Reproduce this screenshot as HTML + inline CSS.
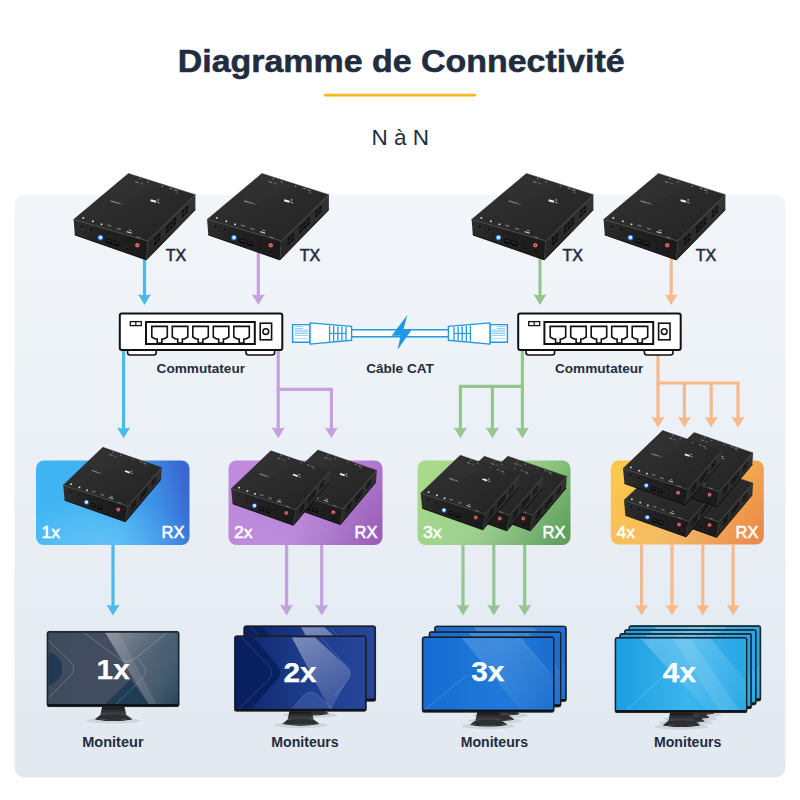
<!DOCTYPE html>
<html lang="fr"><head><meta charset="utf-8"><title>Diagramme de Connectivité</title>
<style>html,body{margin:0;padding:0;background:#fff}body{width:800px;height:800px;overflow:hidden}svg{display:block}text{font-family:"Liberation Sans",Arial,Helvetica,sans-serif}</style></head><body>
<svg width="800" height="800" viewBox="0 0 800 800">
<defs>
<linearGradient id="gPanel" x1="0" y1="0" x2="0" y2="1"><stop offset="0" stop-color="#f2f6fa"/><stop offset=".45" stop-color="#ebf0f6"/><stop offset="1" stop-color="#e1e8f0"/></linearGradient>
<linearGradient id="gTop" x1="0" y1="0" x2="1" y2="1"><stop offset="0" stop-color="#333"/><stop offset=".5" stop-color="#2b2b2b"/><stop offset="1" stop-color="#222"/></linearGradient>
<linearGradient id="gFront" x1="0" y1="0" x2="1" y2="0"><stop offset="0" stop-color="#2d2d2d"/><stop offset=".35" stop-color="#222"/><stop offset="1" stop-color="#1a1a1a"/></linearGradient>
<linearGradient id="gRight" x1="0" y1="1" x2="1" y2="0"><stop offset="0" stop-color="#262626"/><stop offset="1" stop-color="#333"/></linearGradient>
<linearGradient id="gNeck" x1="0" y1="0" x2="0" y2="1"><stop offset="0" stop-color="#101113"/><stop offset="1" stop-color="#4a4d52"/></linearGradient>
<linearGradient id="gBlue" x1="0" y1=".6" x2="1" y2=".45"><stop offset="0" stop-color="#41b6f3"/><stop offset=".5" stop-color="#3eb1f3"/><stop offset=".8" stop-color="#3c8de5"/><stop offset="1" stop-color="#3a68d2"/></linearGradient>
<radialGradient id="gGlow" cx=".42" cy="1" r=".6"><stop offset="0" stop-color="#dff6ff" stop-opacity=".22"/><stop offset="1" stop-color="#dff6ff" stop-opacity="0"/></radialGradient>
<linearGradient id="gPurple" x1="0" y1=".3" x2="1" y2=".8"><stop offset="0" stop-color="#c08add"/><stop offset=".55" stop-color="#b67fd6"/><stop offset="1" stop-color="#9a5fb8"/></linearGradient>
<linearGradient id="gGreen" x1="0" y1=".3" x2="1" y2=".8"><stop offset="0" stop-color="#a9d98b"/><stop offset=".5" stop-color="#97cd84"/><stop offset="1" stop-color="#5f9f5e"/></linearGradient>
<linearGradient id="gOrange" x1="0" y1=".3" x2="1" y2=".8"><stop offset="0" stop-color="#fbc84d"/><stop offset=".5" stop-color="#f7b451"/><stop offset="1" stop-color="#ea8a49"/></linearGradient>
<linearGradient id="scr1" x1="0" y1="0" x2="1" y2="0"><stop offset="0" stop-color="#3f4a5c"/><stop offset=".6" stop-color="#434e60"/><stop offset="1" stop-color="#2d475c"/></linearGradient>
<linearGradient id="scr2" x1="0" y1="0" x2="1" y2="0"><stop offset="0" stop-color="#0b2568"/><stop offset=".5" stop-color="#1d3b8b"/><stop offset="1" stop-color="#274599"/></linearGradient>
<linearGradient id="scr3" x1="0" y1="0" x2="1" y2="0"><stop offset="0" stop-color="#166cd2"/><stop offset=".6" stop-color="#2079d9"/><stop offset="1" stop-color="#1a6fcf"/></linearGradient>
<linearGradient id="scr4" x1="0" y1="0" x2="1" y2="0"><stop offset="0" stop-color="#1c9ee1"/><stop offset=".55" stop-color="#3cb5ed"/><stop offset="1" stop-color="#27a7e5"/></linearGradient>
<linearGradient id="glare" x1="0" y1="0" x2="1" y2="1"><stop offset="0" stop-color="#fff" stop-opacity=".32"/><stop offset="1" stop-color="#fff" stop-opacity=".03"/></linearGradient>
<linearGradient id="glare1" x1="0" y1="0" x2="1" y2="1"><stop offset="0" stop-color="#fff" stop-opacity=".36"/><stop offset=".5" stop-color="#c9d6e2" stop-opacity=".16"/><stop offset="1" stop-color="#1c3b52" stop-opacity=".35"/></linearGradient>
<linearGradient id="glare2" x1="0" y1="0" x2=".6" y2="1"><stop offset="0" stop-color="#fff" stop-opacity=".42"/><stop offset="1" stop-color="#fff" stop-opacity=".12"/></linearGradient>
<clipPath id="scrClip"><rect x="1.3" y="1.3" width="129.9" height="72"/></clipPath>
<g id="pat1"><path d="M1.8 21 Q15.6 25.5 15.2 37.7 Q15.6 49.5 1.8 54.5 Z" fill="#1f3a52"/><path d="M58.4 73 L83.7 48.4 L101.9 73 Z" fill="#203c55"/><polygon points="58.4,1.8 131,1.8 131,73 101.9,73" fill="url(#glare1)"/><polygon points="58.4,1.8 72,1.8 110,73 101.9,73" fill="#fff" opacity=".09"/><path d="M1.8 9.6 L23.5 30.5 Q30.5 37.7 23.5 45 L1.8 66.7" fill="none" stroke="#fff" stroke-opacity=".42" stroke-width=".55"/><path d="M37.5 1.8 L72 27.5 Q80 33.5 88 27.5 L120 1.8" fill="none" stroke="#fff" stroke-opacity=".42" stroke-width=".55"/><path d="M69.2 73 L95 48 Q102 40 96 33 L91 28" fill="none" stroke="#fff" stroke-opacity=".36" stroke-width=".55"/></g>
<g id="pat2"><path d="M1.8 1.8 L19 1.8 L43.4 30 Q48.6 36.8 43.4 43.5 L17 73 L1.8 73 Z" fill="#08205f"/><path d="M57.7 73 L70 59.5 Q77 53.4 84 59.5 L98 73 Z" fill="#4a66ad" opacity=".45"/><path d="M57.7 1.8 L81 1.8 L112.6 31 Q118.6 37 113.8 44 L97.6 73 L95.5 73 Z" fill="url(#glare2)"/><path d="M7.4 1.8 L34.5 29.5 Q40 36.8 34.5 44 L5 73" fill="none" stroke="#fff" stroke-opacity=".28" stroke-width=".55"/><path d="M86.8 1.8 L112.6 31 Q118.6 37 113.8 44 L101 60" fill="none" stroke="#fff" stroke-opacity=".3" stroke-width=".55"/><path d="M57.7 73 L70 59.5 Q77 53.4 84 59.5 L98 73" fill="none" stroke="#fff" stroke-opacity=".25" stroke-width=".5"/></g>
<g id="pat3"><polygon points="40,1.8 100,1.8 131,40 131,73 98,73" fill="url(#glare)" opacity=".55"/><path d="M3 73 L46 38" fill="none" stroke="#fff" stroke-opacity=".3" stroke-width=".6"/><path d="M96 1.8 L128 36" fill="none" stroke="#fff" stroke-opacity=".2" stroke-width=".6"/></g>
<g id="pat4"><polygon points="26,1.8 96,1.8 131,44 131,73 92,73" fill="url(#glare)" opacity=".7"/><polygon points="58,1.8 76,1.8 124,73 104,73" fill="#fff" opacity=".10"/><path d="M12 73 L52 36" fill="none" stroke="#fff" stroke-opacity=".35" stroke-width=".6"/></g>
<symbol id="tx" overflow="visible">
<polygon points="0,46 74.2,67.5 121.8,21.2 54.8,0" fill="url(#gTop)" stroke="#262626" stroke-width=".5"/>
<polygon points="0,46 74.2,67.5 72.8,86.4 1.2,61.4" fill="url(#gFront)"/>
<polygon points="74.2,67.5 121.8,21.2 121.8,36.2 72.8,86.4" fill="url(#gRight)"/>
<polygon points="55.17,2.02 86.76,11.98 41.89,33.59 34.98,19.04" fill="#3b3b3b" opacity=".28"/>
<polygon points="0,46 74.2,67.5 75.06,66.67 0.99,45.17" fill="#3a3a3a" opacity=".55"/>
<polyline points="0,46 74.2,67.5 121.8,21.2" fill="none" stroke="#4f4f4f" stroke-width=".7"/>
<line x1="74.2" y1="67.5" x2="72.8" y2="86.4" stroke="#383838" stroke-width="0.8" opacity="1"/>
<polyline points="1.2,61.4 72.8,86.4 121.8,36.2" fill="none" stroke="#0b0b0b" stroke-width=".9"/>
<line x1="37" y1="27.4" x2="44" y2="29.5" stroke="#c8c8c8" stroke-width="1.2" opacity="0.6"/>
<circle cx="45.4" cy="29.7" r="0.7" fill="#e9ad17"/>
<line x1="46.6" y1="30.4" x2="49" y2="31.1" stroke="#7a7a7a" stroke-width="0.8" opacity="0.7"/>
<line x1="77" y1="26.7" x2="82.4" y2="28.3" stroke="#f0f0f0" stroke-width="2" opacity="1"/>
<line x1="83.2" y1="28.6" x2="86.2" y2="29.5" stroke="#8a8a8a" stroke-width="1.1" opacity="1"/>
<circle cx="84.6" cy="26.4" r="0.7" fill="#fff"/>
<circle cx="66.1" cy="5.1" r="0.7" fill="#9a9a9a"/>
<line x1="61.6" y1="8.1" x2="64.8" y2="9.1" stroke="#a8a8a8" stroke-width="1" opacity="0.8"/>
<line x1="66.4" y1="9.5" x2="69.8" y2="10.5" stroke="#808080" stroke-width="0.8" opacity="0.7"/>
<circle cx="74.5" cy="8.5" r="0.7" fill="#9a9a9a"/>
<circle cx="88.6" cy="12.7" r="0.7" fill="#9a9a9a"/>
<line x1="96" y1="14.7" x2="98.8" y2="15.5" stroke="#a0a0a0" stroke-width="1" opacity="0.8"/>
<line x1="100.4" y1="16.3" x2="104" y2="17.4" stroke="#a0a0a0" stroke-width="1" opacity="0.8"/>
<line x1="101.4" y1="18.7" x2="104.6" y2="19.7" stroke="#777" stroke-width="0.8" opacity="0.7"/>
<rect x="8.85" y="43.6" width="1.7" height="1.6" fill="#e4e4e4"/>
<rect x="18.35" y="47" width="1.7" height="1.6" fill="#e4e4e4"/>
<rect x="27.05" y="50.05" width="1.7" height="1.6" fill="#e4e4e4"/>
<line x1="33.8" y1="51.55" x2="37.8" y2="52.65" stroke="#8a8a8a" stroke-width="1.9" opacity="0.6"/>
<line x1="43.3" y1="54.85" x2="47.3" y2="55.95" stroke="#8a8a8a" stroke-width="1.9" opacity="0.6"/>
<line x1="53" y1="58.1" x2="58" y2="59.6" stroke="#e0e0e0" stroke-width="1.1" opacity="0.85"/>
<line x1="55.6" y1="56.5" x2="57.8" y2="57.2" stroke="#d0d0d0" stroke-width="1" opacity="0.8"/>
<line x1="62.6" y1="63.4" x2="67" y2="64.7" stroke="#9a9a9a" stroke-width="0.9" opacity="0.7"/>
<circle cx="8.2" cy="52.9" r="2.1" fill="#333"/>
<circle cx="8.2" cy="52.9" r="1.25" fill="#0b0b0b"/>
<circle cx="17.8" cy="56" r="2.1" fill="#333"/>
<circle cx="17.8" cy="56" r="1.25" fill="#0b0b0b"/>
<circle cx="26.8" cy="64.1" r="2.9" fill="#1c5fd2"/>
<circle cx="26.8" cy="64.1" r="2.2" fill="#6ab4ff"/>
<circle cx="27" cy="63.9" r="1.45" fill="#f2f9ff"/>
<polygon points="31.8,63.9 38.4,65.8 38.4,71.4 31.8,69.5" fill="#070707" stroke="#2e2e2e" stroke-width=".5"/>
<polygon points="33,65.5 37.2,67.1 37.2,68.8 33,67.2" fill="#2b2f33"/>
<polygon points="39.2,66.1 46.3,68.2 46.3,73.8 39.2,71.7" fill="#070707" stroke="#2e2e2e" stroke-width=".5"/>
<polygon points="40.4,67.7 45.1,69.5 45.1,71.2 40.4,69.4" fill="#2b2f33"/>
<circle cx="52.65" cy="68" r="1.35" fill="#090909" stroke="#343434" stroke-width=".5"/>
<circle cx="53.2" cy="74.8" r="1.35" fill="#090909" stroke="#343434" stroke-width=".5"/>
<circle cx="63.7" cy="71.8" r="2.3" fill="#d9474c"/>
<circle cx="63.7" cy="71.8" r="1.45" fill="#f08a8a"/>
<circle cx="63.7" cy="71.8" r="0.75" fill="#5a1417"/>
<circle cx="64.4" cy="78.5" r="0.8" fill="#070707"/>
<polygon points="80.84,64.82 83.47,62.23 83.29,65.22 80.64,67.85" fill="#0d0d0d"/>
<polygon points="80.53,69.5 83.19,66.85 83,69.84 80.34,72.52" fill="#0d0d0d"/>
<polygon points="84.19,61.52 86.83,58.93 86.66,61.87 84.01,64.5" fill="#0d0d0d"/>
<polygon points="83.91,66.12 86.57,63.48 86.4,66.42 83.73,69.1" fill="#0d0d0d"/>
<polygon points="92.58,53.27 95.45,50.44 95.32,53.27 92.44,56.13" fill="#0d0d0d"/>
<polygon points="92.36,57.7 95.25,54.81 95.13,57.64 92.22,60.57" fill="#0d0d0d"/>
<polygon points="96.17,49.73 99.04,46.9 98.93,49.68 96.05,52.55" fill="#0d0d0d"/>
<polygon points="95.98,54.09 98.87,51.2 98.76,53.98 95.85,56.91" fill="#0d0d0d"/>
<polygon points="99.76,46.19 102.64,43.36 102.54,46.1 99.66,48.96" fill="#0d0d0d"/>
<polygon points="99.6,50.48 102.49,47.59 102.4,50.32 99.49,53.25" fill="#0d0d0d"/>
<polygon points="108.39,37.7 111.02,35.11 110.97,37.73 108.32,40.36" fill="#0d0d0d"/>
<polygon points="108.29,41.81 110.94,39.16 110.89,41.78 108.22,44.46" fill="#0d0d0d"/>
<polygon points="111.74,34.4 114.37,31.81 114.34,34.38 111.69,37.01" fill="#0d0d0d"/>
<polygon points="111.66,38.44 114.32,35.79 114.28,38.36 111.62,41.05" fill="#0d0d0d"/>
</symbol>
<symbol id="rx" overflow="visible">
<polygon points="0,37.9 64.6,59 98.6,20.3 39.6,0" fill="url(#gTop)" stroke="#262626" stroke-width=".5"/>
<polygon points="0,37.9 64.6,59 62.2,74.5 1.4,52.9" fill="url(#gFront)"/>
<polygon points="64.6,59 98.6,20.3 97.8,31.9 62.2,74.5" fill="url(#gRight)"/>
<polygon points="40.19,1.75 68,11.3 33.3,28.56 25.6,15.78" fill="#3b3b3b" opacity=".28"/>
<polygon points="0,37.9 64.6,59 65.21,58.3 0.71,37.22" fill="#3a3a3a" opacity=".55"/>
<polyline points="0,37.9 64.6,59 98.6,20.3" fill="none" stroke="#4f4f4f" stroke-width=".7"/>
<line x1="64.6" y1="59" x2="62.2" y2="74.5" stroke="#383838" stroke-width="0.69" opacity="1"/>
<polyline points="1.4,52.9 62.2,74.5 97.8,31.9" fill="none" stroke="#0b0b0b" stroke-width=".9"/>
<line x1="28.4" y1="23.06" x2="34.53" y2="25.1" stroke="#c8c8c8" stroke-width="1.03" opacity="0.6"/>
<circle cx="35.72" cy="25.31" r="0.6" fill="#e9ad17"/>
<line x1="36.82" y1="25.96" x2="38.91" y2="26.64" stroke="#7a7a7a" stroke-width="0.69" opacity="0.7"/>
<line x1="61.75" y1="23.71" x2="66.48" y2="25.27" stroke="#f0f0f0" stroke-width="1.72" opacity="1"/>
<line x1="67.19" y1="25.55" x2="69.82" y2="26.42" stroke="#8a8a8a" stroke-width="0.95" opacity="1"/>
<circle cx="68.08" cy="23.69" r="0.6" fill="#fff"/>
<circle cx="49.76" cy="4.74" r="0.6" fill="#9a9a9a"/>
<line x1="46.39" y1="7.18" x2="49.21" y2="8.14" stroke="#a8a8a8" stroke-width="0.86" opacity="0.8"/>
<line x1="50.6" y1="8.54" x2="53.58" y2="9.5" stroke="#808080" stroke-width="0.69" opacity="0.7"/>
<circle cx="57.25" cy="7.92" r="0.6" fill="#9a9a9a"/>
<circle cx="69.63" cy="11.97" r="0.6" fill="#9a9a9a"/>
<line x1="76.1" y1="13.92" x2="78.55" y2="14.69" stroke="#a0a0a0" stroke-width="0.86" opacity="0.8"/>
<line x1="80" y1="15.43" x2="83.17" y2="16.49" stroke="#a0a0a0" stroke-width="0.86" opacity="0.8"/>
<line x1="81.15" y1="17.54" x2="83.97" y2="18.5" stroke="#777" stroke-width="0.69" opacity="0.7"/>
<rect x="7.02" y="36.04" width="1.7" height="1.6" fill="#e4e4e4"/>
<rect x="15.38" y="39.3" width="1.7" height="1.6" fill="#e4e4e4"/>
<rect x="23.02" y="42.23" width="1.7" height="1.6" fill="#e4e4e4"/>
<line x1="28.88" y1="43.84" x2="32.36" y2="44.92" stroke="#8a8a8a" stroke-width="1.63" opacity="0.6"/>
<line x1="37.23" y1="47.01" x2="40.7" y2="48.09" stroke="#8a8a8a" stroke-width="1.63" opacity="0.6"/>
<line x1="45.73" y1="50.15" x2="50.09" y2="51.61" stroke="#e0e0e0" stroke-width="0.95" opacity="0.85"/>
<line x1="47.7" y1="48.84" x2="49.62" y2="49.52" stroke="#d0d0d0" stroke-width="0.86" opacity="0.8"/>
<line x1="54.41" y1="55.06" x2="58.24" y2="56.33" stroke="#9a9a9a" stroke-width="0.77" opacity="0.7"/>
<circle cx="7.19" cy="44.55" r="1.81" fill="#333"/>
<circle cx="7.19" cy="44.55" r="1.07" fill="#0b0b0b"/>
<circle cx="15.49" cy="47.47" r="1.81" fill="#333"/>
<circle cx="15.49" cy="47.47" r="1.07" fill="#0b0b0b"/>
<circle cx="23.21" cy="54.94" r="2.49" fill="#1c5fd2"/>
<circle cx="23.21" cy="54.94" r="1.89" fill="#6ab4ff"/>
<circle cx="23.41" cy="54.74" r="1.25" fill="#f2f9ff"/>
<polygon points="27.53,54.76 33.21,56.51 33.07,61.47 27.43,59.8" fill="#070707" stroke="#2e2e2e" stroke-width=".5"/>
<polygon points="28.54,56.21 32.14,57.65 32.1,59.17 28.51,57.73" fill="#2b2f33"/>
<polygon points="33.9,56.78 40.01,58.72 39.81,63.59 33.75,61.74" fill="#070707" stroke="#2e2e2e" stroke-width=".5"/>
<polygon points="34.89,58.21 38.92,59.84 38.86,61.32 34.85,59.71" fill="#2b2f33"/>
<circle cx="45.56" cy="58.67" r="1.16" fill="#090909" stroke="#343434" stroke-width=".5"/>
<circle cx="45.76" cy="64.51" r="1.16" fill="#090909" stroke="#343434" stroke-width=".5"/>
<circle cx="55.08" cy="62.18" r="1.98" fill="#d9474c"/>
<circle cx="55.08" cy="62.18" r="1.25" fill="#f08a8a"/>
<circle cx="55.08" cy="62.18" r="0.65" fill="#5a1417"/>
<circle cx="55.34" cy="67.81" r="0.69" fill="#070707"/>
<polygon points="69.05,56.67 70.94,54.5 70.6,56.93 68.7,59.14" fill="#0d0d0d"/>
<polygon points="68.5,60.48 70.41,58.25 70.07,60.68 68.14,62.95" fill="#0d0d0d"/>
<polygon points="71.46,53.91 73.35,51.73 73.02,54.11 71.12,56.32" fill="#0d0d0d"/>
<polygon points="70.93,57.64 72.85,55.41 72.52,57.8 70.59,60.06" fill="#0d0d0d"/>
<polygon points="77.47,46.98 79.53,44.61 79.25,46.88 77.18,49.29" fill="#0d0d0d"/>
<polygon points="77.02,50.55 79.1,48.11 78.82,50.38 76.72,52.85" fill="#0d0d0d"/>
<polygon points="80.05,44.02 82.11,41.64 81.85,43.86 79.77,46.27" fill="#0d0d0d"/>
<polygon points="79.62,47.51 81.71,45.07 81.45,47.29 79.35,49.76" fill="#0d0d0d"/>
<polygon points="82.62,41.05 84.68,38.68 84.45,40.85 82.37,43.26" fill="#0d0d0d"/>
<polygon points="82.23,44.46 84.32,42.03 84.08,44.2 81.98,46.67" fill="#0d0d0d"/>
<polygon points="88.81,33.93 90.69,31.75 90.5,33.81 88.6,36.02" fill="#0d0d0d"/>
<polygon points="88.49,37.16 90.4,34.93 90.21,36.99 88.28,39.26" fill="#0d0d0d"/>
<polygon points="91.21,31.16 93.1,28.98 92.93,31 91.02,33.21" fill="#0d0d0d"/>
<polygon points="90.92,34.33 92.83,32.1 92.66,34.11 90.73,36.38" fill="#0d0d0d"/>
</symbol>
</defs>
<rect width="800" height="800" fill="#fff"/>
<text x="401.2" y="72.2" text-anchor="middle" font-size="31.5" font-weight="700" fill="#1f2d3f" stroke="#1f2d3f" stroke-width=".55" textLength="447" lengthAdjust="spacingAndGlyphs">Diagramme de Connectivité</text>
<line x1="325" y1="95.1" x2="475" y2="95.1" stroke="#f7b71d" stroke-width="2.6" stroke-linecap="round"/>
<text x="400.2" y="144.6" text-anchor="middle" font-size="22" fill="#1f2d3f" textLength="57.5" lengthAdjust="spacingAndGlyphs">N à N</text>
<rect x="14.5" y="195" width="771" height="582.5" rx="10" fill="url(#gPanel)"/>
<line x1="144.5" y1="255" x2="144.5" y2="298" stroke="#4bb9e9" stroke-width="3.2"/>
<path d="M144.5 305 L138 294.2 Q144.5 296.4 151 294.2 Z" fill="#4bb9e9"/>
<line x1="258.3" y1="250" x2="258.3" y2="298" stroke="#c6a0de" stroke-width="3.2"/>
<path d="M258.3 305 L251.8 294.2 Q258.3 296.4 264.8 294.2 Z" fill="#c6a0de"/>
<line x1="540" y1="255" x2="540" y2="298" stroke="#95c591" stroke-width="3.2"/>
<path d="M540 305 L533.5 294.2 Q540 296.4 546.5 294.2 Z" fill="#95c591"/>
<line x1="671.2" y1="255" x2="671.2" y2="298" stroke="#f5b98a" stroke-width="3.2"/>
<path d="M671.2 305 L664.7 294.2 Q671.2 296.4 677.7 294.2 Z" fill="#f5b98a"/>
<use href="#tx" x="73.6" y="173.5"/>
<use href="#tx" x="207.1" y="173.5"/>
<use href="#tx" x="471.6" y="173.5"/>
<use href="#tx" x="603.6" y="173.5"/>
<text x="176" y="260.5" text-anchor="middle" font-size="16" fill="#1f2d3f" stroke="#1f2d3f" stroke-width=".55">TX</text>
<text x="310" y="260.5" text-anchor="middle" font-size="16" fill="#1f2d3f" stroke="#1f2d3f" stroke-width=".55">TX</text>
<text x="572.8" y="260.5" text-anchor="middle" font-size="16" fill="#1f2d3f" stroke="#1f2d3f" stroke-width=".55">TX</text>
<text x="706" y="260.5" text-anchor="middle" font-size="16" fill="#1f2d3f" stroke="#1f2d3f" stroke-width=".55">TX</text>
<line x1="123.6" y1="349" x2="123.6" y2="431.3" stroke="#4bb9e9" stroke-width="3.2"/>
<path d="M123.6 438.3 L117.1 427.5 Q123.6 429.7 130.1 427.5 Z" fill="#4bb9e9"/>
<path d="M278.2 349 V431 M278.2 389.3 H331.4 V431" fill="none" stroke="#c6a0de" stroke-width="3.2" stroke-linejoin="miter"/>
<path d="M278.2 438.3 L271.7 427.5 Q278.2 429.7 284.7 427.5 Z" fill="#c6a0de"/>
<path d="M331.4 438.3 L324.9 427.5 Q331.4 429.7 337.9 427.5 Z" fill="#c6a0de"/>
<path d="M522.4 349 V431 M522.4 386.4 H460.4 V431 M492.4 386.4 V431" fill="none" stroke="#95c591" stroke-width="3.2"/>
<path d="M460.4 438.3 L453.9 427.5 Q460.4 429.7 466.9 427.5 Z" fill="#95c591"/>
<path d="M492.4 438.3 L485.9 427.5 Q492.4 429.7 498.9 427.5 Z" fill="#95c591"/>
<path d="M522.4 438.3 L515.9 427.5 Q522.4 429.7 528.9 427.5 Z" fill="#95c591"/>
<path d="M658 349 V421 M658 383 H738 V421 M684.4 383 V421 M711.2 383 V421" fill="none" stroke="#f5b98a" stroke-width="3.2"/>
<path d="M658 427.6 L651.5 416.8 Q658 419 664.5 416.8 Z" fill="#f5b98a"/>
<path d="M684.4 427.6 L677.9 416.8 Q684.4 419 690.9 416.8 Z" fill="#f5b98a"/>
<path d="M711.2 427.6 L704.7 416.8 Q711.2 419 717.7 416.8 Z" fill="#f5b98a"/>
<path d="M738 427.6 L731.5 416.8 Q738 419 744.5 416.8 Z" fill="#f5b98a"/>
<g fill="#fff" stroke="#1e98e3" stroke-width="1.4" stroke-linejoin="round">
<rect x="351" y="329.8" width="98" height="6.9" stroke-width="1.5"/>
<g transform="translate(0 0) scale(1 1)">
<rect x="292.6" y="324.6" width="17.4" height="17.6"/>
<line x1="294.6" y1="326.6" x2="303" y2="326.6" stroke-width=".7" opacity=".75"/>
<line x1="294.6" y1="328.35" x2="303" y2="328.35" stroke-width=".7" opacity=".75"/>
<line x1="294.6" y1="330.1" x2="308.5" y2="330.1" stroke-width=".7" opacity=".75"/>
<line x1="294.6" y1="331.85" x2="308.5" y2="331.85" stroke-width=".7" opacity=".75"/>
<line x1="294.6" y1="333.6" x2="308.5" y2="333.6" stroke-width=".7" opacity=".75"/>
<line x1="294.6" y1="335.35" x2="308.5" y2="335.35" stroke-width=".7" opacity=".75"/>
<line x1="294.6" y1="338.6" x2="308.5" y2="338.6" stroke-width=".7" opacity=".5"/>
<path d="M310 322.9 L351.6 326.4 L351.6 340.2 L310 344.1 Z"/>
<line x1="329.6" y1="325.6" x2="329.6" y2="341.5" stroke-width="1.3"/>
<line x1="333.7" y1="325.95" x2="333.7" y2="341.15" stroke-width="1.3"/>
<line x1="337.8" y1="326.3" x2="337.8" y2="340.8" stroke-width="1.3"/>
<line x1="341.9" y1="326.65" x2="341.9" y2="340.45" stroke-width="1.3"/>
<line x1="346" y1="327" x2="346" y2="340.1" stroke-width="1.3"/>
<line x1="329.6" y1="333.4" x2="346" y2="333.4" stroke-width="1.1"/>
</g>
<g transform="translate(800 0) scale(-1 1)">
<rect x="292.6" y="324.6" width="17.4" height="17.6"/>
<line x1="294.6" y1="326.6" x2="303" y2="326.6" stroke-width=".7" opacity=".75"/>
<line x1="294.6" y1="328.35" x2="303" y2="328.35" stroke-width=".7" opacity=".75"/>
<line x1="294.6" y1="330.1" x2="308.5" y2="330.1" stroke-width=".7" opacity=".75"/>
<line x1="294.6" y1="331.85" x2="308.5" y2="331.85" stroke-width=".7" opacity=".75"/>
<line x1="294.6" y1="333.6" x2="308.5" y2="333.6" stroke-width=".7" opacity=".75"/>
<line x1="294.6" y1="335.35" x2="308.5" y2="335.35" stroke-width=".7" opacity=".75"/>
<line x1="294.6" y1="338.6" x2="308.5" y2="338.6" stroke-width=".7" opacity=".5"/>
<path d="M310 322.9 L351.6 326.4 L351.6 340.2 L310 344.1 Z"/>
<line x1="329.6" y1="325.6" x2="329.6" y2="341.5" stroke-width="1.3"/>
<line x1="333.7" y1="325.95" x2="333.7" y2="341.15" stroke-width="1.3"/>
<line x1="337.8" y1="326.3" x2="337.8" y2="340.8" stroke-width="1.3"/>
<line x1="341.9" y1="326.65" x2="341.9" y2="340.45" stroke-width="1.3"/>
<line x1="346" y1="327" x2="346" y2="340.1" stroke-width="1.3"/>
<line x1="329.6" y1="333.4" x2="346" y2="333.4" stroke-width="1.1"/>
</g>
</g>
<path d="M407.4 315 L391.6 335.8 L400.6 335.8 L397.6 349.8 L411.8 329.4 L403.4 329.4 Z" fill="#1e98e3"/>
<g transform="translate(119.8 313.6)">
<rect x="7.8" y="33" width="28.6" height="8.4" rx="2.5" fill="#fff" stroke="#111" stroke-width="1.6"/>
<rect x="126.2" y="33" width="28.6" height="8.4" rx="2.5" fill="#fff" stroke="#111" stroke-width="1.6"/>
<rect x="0" y="0" width="162.5" height="36.5" rx="2" fill="#fff" stroke="#111" stroke-width="2"/>
<rect x="10.5" y="8" width="11" height="4" fill="#fff" stroke="#111" stroke-width="1.3"/><line x1="16" y1="8" x2="16" y2="12" stroke="#111" stroke-width="1.2"/>
<rect x="26.2" y="8.4" width="108.8" height="22" fill="#fff" stroke="#111" stroke-width="2"/>
<path d="M32 12.8 h15.5 v10.6 l-3.4 2 h-2 v4 h-4.7 v-4 h-2 l-3.4 -2 Z" fill="#fff" stroke="#111" stroke-width="1.6" stroke-linejoin="miter"/>
<path d="M52.5 12.8 h15.5 v10.6 l-3.4 2 h-2 v4 h-4.7 v-4 h-2 l-3.4 -2 Z" fill="#fff" stroke="#111" stroke-width="1.6" stroke-linejoin="miter"/>
<path d="M73 12.8 h15.5 v10.6 l-3.4 2 h-2 v4 h-4.7 v-4 h-2 l-3.4 -2 Z" fill="#fff" stroke="#111" stroke-width="1.6" stroke-linejoin="miter"/>
<path d="M93.5 12.8 h15.5 v10.6 l-3.4 2 h-2 v4 h-4.7 v-4 h-2 l-3.4 -2 Z" fill="#fff" stroke="#111" stroke-width="1.6" stroke-linejoin="miter"/>
<path d="M114 12.8 h15.5 v10.6 l-3.4 2 h-2 v4 h-4.7 v-4 h-2 l-3.4 -2 Z" fill="#fff" stroke="#111" stroke-width="1.6" stroke-linejoin="miter"/>
<rect x="140.4" y="9.6" width="11.4" height="16.6" fill="#fff" stroke="#111" stroke-width="1.6"/>
<circle cx="146" cy="18" r="2.9" fill="#fff" stroke="#111" stroke-width="1.5"/>
</g>
<g transform="translate(518.2 313.6)">
<rect x="7.8" y="33" width="28.6" height="8.4" rx="2.5" fill="#fff" stroke="#111" stroke-width="1.6"/>
<rect x="126.2" y="33" width="28.6" height="8.4" rx="2.5" fill="#fff" stroke="#111" stroke-width="1.6"/>
<rect x="0" y="0" width="162.5" height="36.5" rx="2" fill="#fff" stroke="#111" stroke-width="2"/>
<rect x="10.5" y="8" width="11" height="4" fill="#fff" stroke="#111" stroke-width="1.3"/><line x1="16" y1="8" x2="16" y2="12" stroke="#111" stroke-width="1.2"/>
<rect x="26.2" y="8.4" width="108.8" height="22" fill="#fff" stroke="#111" stroke-width="2"/>
<path d="M32 12.8 h15.5 v10.6 l-3.4 2 h-2 v4 h-4.7 v-4 h-2 l-3.4 -2 Z" fill="#fff" stroke="#111" stroke-width="1.6" stroke-linejoin="miter"/>
<path d="M52.5 12.8 h15.5 v10.6 l-3.4 2 h-2 v4 h-4.7 v-4 h-2 l-3.4 -2 Z" fill="#fff" stroke="#111" stroke-width="1.6" stroke-linejoin="miter"/>
<path d="M73 12.8 h15.5 v10.6 l-3.4 2 h-2 v4 h-4.7 v-4 h-2 l-3.4 -2 Z" fill="#fff" stroke="#111" stroke-width="1.6" stroke-linejoin="miter"/>
<path d="M93.5 12.8 h15.5 v10.6 l-3.4 2 h-2 v4 h-4.7 v-4 h-2 l-3.4 -2 Z" fill="#fff" stroke="#111" stroke-width="1.6" stroke-linejoin="miter"/>
<path d="M114 12.8 h15.5 v10.6 l-3.4 2 h-2 v4 h-4.7 v-4 h-2 l-3.4 -2 Z" fill="#fff" stroke="#111" stroke-width="1.6" stroke-linejoin="miter"/>
<rect x="140.4" y="9.6" width="11.4" height="16.6" fill="#fff" stroke="#111" stroke-width="1.6"/>
<circle cx="146" cy="18" r="2.9" fill="#fff" stroke="#111" stroke-width="1.5"/>
</g>
<text x="200.8" y="372.6" text-anchor="middle" font-size="13.6" font-weight="700" fill="#1f2d3f">Commutateur</text>
<text x="599.2" y="372.6" text-anchor="middle" font-size="13.6" font-weight="700" fill="#1f2d3f">Commutateur</text>
<text x="400" y="372.6" text-anchor="middle" font-size="13.6" font-weight="700" fill="#1f2d3f">Câble CAT</text>
<rect x="36" y="460.5" width="153.5" height="84.5" rx="8" fill="url(#gBlue)"/>
<rect x="36" y="460.5" width="153.5" height="84.5" rx="8" fill="url(#gGlow)"/>
<rect x="228.5" y="460.5" width="154" height="84.5" rx="8" fill="url(#gPurple)"/>
<rect x="228.5" y="460.5" width="154" height="84.5" rx="8" fill="url(#gGlow)" opacity=".6"/>
<rect x="417.5" y="460.5" width="153" height="84.5" rx="8" fill="url(#gGreen)"/>
<rect x="417.5" y="460.5" width="153" height="84.5" rx="8" fill="url(#gGlow)" opacity=".6"/>
<rect x="610.8" y="460.5" width="153" height="84" rx="8" fill="url(#gOrange)"/>
<rect x="610.8" y="460.5" width="153" height="84" rx="8" fill="url(#gGlow)" opacity=".6"/>
<line x1="113" y1="545" x2="113" y2="608.5" stroke="#4bb9e9" stroke-width="3.2"/>
<path d="M113 615.5 L106.5 604.7 Q113 606.9 119.5 604.7 Z" fill="#4bb9e9"/>
<line x1="286.6" y1="545" x2="286.6" y2="608.5" stroke="#c6a0de" stroke-width="3.2"/>
<path d="M286.6 615.5 L280.1 604.7 Q286.6 606.9 293.1 604.7 Z" fill="#c6a0de"/>
<line x1="321.7" y1="545" x2="321.7" y2="608.5" stroke="#c6a0de" stroke-width="3.2"/>
<path d="M321.7 615.5 L315.2 604.7 Q321.7 606.9 328.2 604.7 Z" fill="#c6a0de"/>
<line x1="463" y1="545" x2="463" y2="608.5" stroke="#95c591" stroke-width="3.2"/>
<path d="M463 615.5 L456.5 604.7 Q463 606.9 469.5 604.7 Z" fill="#95c591"/>
<line x1="493.8" y1="545" x2="493.8" y2="608.5" stroke="#95c591" stroke-width="3.2"/>
<path d="M493.8 615.5 L487.3 604.7 Q493.8 606.9 500.3 604.7 Z" fill="#95c591"/>
<line x1="524.7" y1="545" x2="524.7" y2="608.5" stroke="#95c591" stroke-width="3.2"/>
<path d="M524.7 615.5 L518.2 604.7 Q524.7 606.9 531.2 604.7 Z" fill="#95c591"/>
<line x1="641.6" y1="544.5" x2="641.6" y2="608.5" stroke="#f5b98a" stroke-width="3.2"/>
<path d="M641.6 615.5 L635.1 604.7 Q641.6 606.9 648.1 604.7 Z" fill="#f5b98a"/>
<line x1="672" y1="544.5" x2="672" y2="608.5" stroke="#f5b98a" stroke-width="3.2"/>
<path d="M672 615.5 L665.5 604.7 Q672 606.9 678.5 604.7 Z" fill="#f5b98a"/>
<line x1="702.8" y1="544.5" x2="702.8" y2="608.5" stroke="#f5b98a" stroke-width="3.2"/>
<path d="M702.8 615.5 L696.3 604.7 Q702.8 606.9 709.3 604.7 Z" fill="#f5b98a"/>
<line x1="733.2" y1="544.5" x2="733.2" y2="608.5" stroke="#f5b98a" stroke-width="3.2"/>
<path d="M733.2 615.5 L726.7 604.7 Q733.2 606.9 739.7 604.7 Z" fill="#f5b98a"/>
<use href="#rx" x="63.2" y="447.3"/>
<use href="#rx" x="278.2" y="450.1"/>
<use href="#rx" x="231.2" y="450.8"/>
<use href="#rx" x="468.2" y="456.3"/>
<use href="#rx" x="444.7" y="456.3"/>
<use href="#rx" x="420.7" y="455.3"/>
<use href="#rx" x="654.5" y="462.9"/>
<use href="#rx" x="624" y="462.4"/>
<use href="#rx" x="654.5" y="432.6"/>
<use href="#rx" x="623" y="430.6"/>
<text x="41.5" y="537.6" font-size="16.5" fill="#fff" stroke="#fff" stroke-width=".5" textLength="18.6" lengthAdjust="spacingAndGlyphs">1x</text>
<text x="184.5" y="537.6" text-anchor="end" font-size="16.5" fill="#fff" stroke="#fff" stroke-width=".55">RX</text>
<text x="234" y="537.6" font-size="16.5" fill="#fff" stroke="#fff" stroke-width=".5" textLength="18.6" lengthAdjust="spacingAndGlyphs">2x</text>
<text x="377.5" y="537.6" text-anchor="end" font-size="16.5" fill="#fff" stroke="#fff" stroke-width=".55">RX</text>
<text x="423" y="537.6" font-size="16.5" fill="#fff" stroke="#fff" stroke-width=".5" textLength="18.6" lengthAdjust="spacingAndGlyphs">3x</text>
<text x="565.5" y="537.6" text-anchor="end" font-size="16.5" fill="#fff" stroke="#fff" stroke-width=".55">RX</text>
<text x="616.5" y="537.6" font-size="16.5" fill="#fff" stroke="#fff" stroke-width=".5" textLength="18.6" lengthAdjust="spacingAndGlyphs">4x</text>
<text x="758.5" y="537.6" text-anchor="end" font-size="16.5" fill="#fff" stroke="#fff" stroke-width=".55">RX</text>
<g transform="translate(46.8 631)">
<ellipse cx="66.5" cy="89.6" rx="27" ry="3" fill="#000" opacity=".09"/>
<path d="M55.5 75 L77.5 75 L79.5 84 Q66.5 85.4 53.5 84 Z" fill="url(#gNeck)"/>
<path d="M53.5 84 Q66.5 82.4 79.5 84 L85 87.8 Q66.5 90.6 48.5 87.8 Z" fill="#2d2f33"/>
<path d="M48.5 87.8 Q66.5 90.6 85 87.8 L85 88.5 Q66.5 91.6 48.5 88.5 Z" fill="#111"/>
<rect x="0" y="0" width="132.5" height="76" rx="2.6" fill="#0d0f12"/>
<rect x="0.4" y="0.4" width="131.7" height="75.2" rx="2.3" fill="none" stroke="#3a3d42" stroke-width=".6"/>
<g clip-path="url(#scrClip)">
<rect x="1.3" y="1.3" width="129.9" height="72" fill="url(#scr1)"/>
<use href="#pat1"/>
</g>
</g>
<g transform="translate(243.5 625.5)">
<ellipse cx="66.5" cy="89.6" rx="27" ry="3" fill="#000" opacity=".09"/>
<path d="M55.5 75 L77.5 75 L79.5 84 Q66.5 85.4 53.5 84 Z" fill="url(#gNeck)"/>
<path d="M53.5 84 Q66.5 82.4 79.5 84 L85 87.8 Q66.5 90.6 48.5 87.8 Z" fill="#2d2f33"/>
<path d="M48.5 87.8 Q66.5 90.6 85 87.8 L85 88.5 Q66.5 91.6 48.5 88.5 Z" fill="#111"/>
<rect x="0" y="0" width="132.5" height="76" rx="2.6" fill="#0d0f12"/>
<rect x="0.4" y="0.4" width="131.7" height="75.2" rx="2.3" fill="none" stroke="#3a3d42" stroke-width=".6"/>
<g clip-path="url(#scrClip)">
<rect x="1.3" y="1.3" width="129.9" height="72" fill="url(#scr2)"/>
<use href="#pat2"/>
</g>
</g>
<g transform="translate(234.1 635.6)">
<ellipse cx="66.5" cy="89.6" rx="27" ry="3" fill="#000" opacity=".09"/>
<path d="M55.5 75 L77.5 75 L79.5 84 Q66.5 85.4 53.5 84 Z" fill="url(#gNeck)"/>
<path d="M53.5 84 Q66.5 82.4 79.5 84 L85 87.8 Q66.5 90.6 48.5 87.8 Z" fill="#2d2f33"/>
<path d="M48.5 87.8 Q66.5 90.6 85 87.8 L85 88.5 Q66.5 91.6 48.5 88.5 Z" fill="#111"/>
<rect x="0" y="0" width="132.5" height="76" rx="2.6" fill="#0d0f12"/>
<rect x="0.4" y="0.4" width="131.7" height="75.2" rx="2.3" fill="none" stroke="#3a3d42" stroke-width=".6"/>
<g clip-path="url(#scrClip)">
<rect x="1.3" y="1.3" width="129.9" height="72" fill="url(#scr2)"/>
<use href="#pat2"/>
</g>
</g>
<g transform="translate(434.2 625.8)">
<ellipse cx="66.5" cy="89.6" rx="27" ry="3" fill="#000" opacity=".09"/>
<path d="M55.5 75 L77.5 75 L79.5 84 Q66.5 85.4 53.5 84 Z" fill="url(#gNeck)"/>
<path d="M53.5 84 Q66.5 82.4 79.5 84 L85 87.8 Q66.5 90.6 48.5 87.8 Z" fill="#2d2f33"/>
<path d="M48.5 87.8 Q66.5 90.6 85 87.8 L85 88.5 Q66.5 91.6 48.5 88.5 Z" fill="#111"/>
<rect x="0" y="0" width="132.5" height="76" rx="2.6" fill="#0d0f12"/>
<rect x="0.4" y="0.4" width="131.7" height="75.2" rx="2.3" fill="none" stroke="#3a3d42" stroke-width=".6"/>
<g clip-path="url(#scrClip)">
<rect x="1.3" y="1.3" width="129.9" height="72" fill="url(#scr3)"/>
<use href="#pat3"/>
</g>
</g>
<g transform="translate(428.8 631.2)">
<ellipse cx="66.5" cy="89.6" rx="27" ry="3" fill="#000" opacity=".09"/>
<path d="M55.5 75 L77.5 75 L79.5 84 Q66.5 85.4 53.5 84 Z" fill="url(#gNeck)"/>
<path d="M53.5 84 Q66.5 82.4 79.5 84 L85 87.8 Q66.5 90.6 48.5 87.8 Z" fill="#2d2f33"/>
<path d="M48.5 87.8 Q66.5 90.6 85 87.8 L85 88.5 Q66.5 91.6 48.5 88.5 Z" fill="#111"/>
<rect x="0" y="0" width="132.5" height="76" rx="2.6" fill="#0d0f12"/>
<rect x="0.4" y="0.4" width="131.7" height="75.2" rx="2.3" fill="none" stroke="#3a3d42" stroke-width=".6"/>
<g clip-path="url(#scrClip)">
<rect x="1.3" y="1.3" width="129.9" height="72" fill="url(#scr3)"/>
<use href="#pat3"/>
</g>
</g>
<g transform="translate(421.9 636.5)">
<ellipse cx="66.5" cy="89.6" rx="27" ry="3" fill="#000" opacity=".09"/>
<path d="M55.5 75 L77.5 75 L79.5 84 Q66.5 85.4 53.5 84 Z" fill="url(#gNeck)"/>
<path d="M53.5 84 Q66.5 82.4 79.5 84 L85 87.8 Q66.5 90.6 48.5 87.8 Z" fill="#2d2f33"/>
<path d="M48.5 87.8 Q66.5 90.6 85 87.8 L85 88.5 Q66.5 91.6 48.5 88.5 Z" fill="#111"/>
<rect x="0" y="0" width="132.5" height="76" rx="2.6" fill="#0d0f12"/>
<rect x="0.4" y="0.4" width="131.7" height="75.2" rx="2.3" fill="none" stroke="#3a3d42" stroke-width=".6"/>
<g clip-path="url(#scrClip)">
<rect x="1.3" y="1.3" width="129.9" height="72" fill="url(#scr3)"/>
<use href="#pat3"/>
</g>
</g>
<g transform="translate(628.6 625.3)">
<ellipse cx="66.5" cy="89.6" rx="27" ry="3" fill="#000" opacity=".09"/>
<path d="M55.5 75 L77.5 75 L79.5 84 Q66.5 85.4 53.5 84 Z" fill="url(#gNeck)"/>
<path d="M53.5 84 Q66.5 82.4 79.5 84 L85 87.8 Q66.5 90.6 48.5 87.8 Z" fill="#2d2f33"/>
<path d="M48.5 87.8 Q66.5 90.6 85 87.8 L85 88.5 Q66.5 91.6 48.5 88.5 Z" fill="#111"/>
<rect x="0" y="0" width="132.5" height="76" rx="2.6" fill="#0d0f12"/>
<rect x="0.4" y="0.4" width="131.7" height="75.2" rx="2.3" fill="none" stroke="#3a3d42" stroke-width=".6"/>
<g clip-path="url(#scrClip)">
<rect x="1.3" y="1.3" width="129.9" height="72" fill="url(#scr4)"/>
<use href="#pat4"/>
</g>
</g>
<g transform="translate(624 629.2)">
<ellipse cx="66.5" cy="89.6" rx="27" ry="3" fill="#000" opacity=".09"/>
<path d="M55.5 75 L77.5 75 L79.5 84 Q66.5 85.4 53.5 84 Z" fill="url(#gNeck)"/>
<path d="M53.5 84 Q66.5 82.4 79.5 84 L85 87.8 Q66.5 90.6 48.5 87.8 Z" fill="#2d2f33"/>
<path d="M48.5 87.8 Q66.5 90.6 85 87.8 L85 88.5 Q66.5 91.6 48.5 88.5 Z" fill="#111"/>
<rect x="0" y="0" width="132.5" height="76" rx="2.6" fill="#0d0f12"/>
<rect x="0.4" y="0.4" width="131.7" height="75.2" rx="2.3" fill="none" stroke="#3a3d42" stroke-width=".6"/>
<g clip-path="url(#scrClip)">
<rect x="1.3" y="1.3" width="129.9" height="72" fill="url(#scr4)"/>
<use href="#pat4"/>
</g>
</g>
<g transform="translate(619.4 633.1)">
<ellipse cx="66.5" cy="89.6" rx="27" ry="3" fill="#000" opacity=".09"/>
<path d="M55.5 75 L77.5 75 L79.5 84 Q66.5 85.4 53.5 84 Z" fill="url(#gNeck)"/>
<path d="M53.5 84 Q66.5 82.4 79.5 84 L85 87.8 Q66.5 90.6 48.5 87.8 Z" fill="#2d2f33"/>
<path d="M48.5 87.8 Q66.5 90.6 85 87.8 L85 88.5 Q66.5 91.6 48.5 88.5 Z" fill="#111"/>
<rect x="0" y="0" width="132.5" height="76" rx="2.6" fill="#0d0f12"/>
<rect x="0.4" y="0.4" width="131.7" height="75.2" rx="2.3" fill="none" stroke="#3a3d42" stroke-width=".6"/>
<g clip-path="url(#scrClip)">
<rect x="1.3" y="1.3" width="129.9" height="72" fill="url(#scr4)"/>
<use href="#pat4"/>
</g>
</g>
<g transform="translate(614.8 637)">
<ellipse cx="66.5" cy="89.6" rx="27" ry="3" fill="#000" opacity=".09"/>
<path d="M55.5 75 L77.5 75 L79.5 84 Q66.5 85.4 53.5 84 Z" fill="url(#gNeck)"/>
<path d="M53.5 84 Q66.5 82.4 79.5 84 L85 87.8 Q66.5 90.6 48.5 87.8 Z" fill="#2d2f33"/>
<path d="M48.5 87.8 Q66.5 90.6 85 87.8 L85 88.5 Q66.5 91.6 48.5 88.5 Z" fill="#111"/>
<rect x="0" y="0" width="132.5" height="76" rx="2.6" fill="#0d0f12"/>
<rect x="0.4" y="0.4" width="131.7" height="75.2" rx="2.3" fill="none" stroke="#3a3d42" stroke-width=".6"/>
<g clip-path="url(#scrClip)">
<rect x="1.3" y="1.3" width="129.9" height="72" fill="url(#scr4)"/>
<use href="#pat4"/>
</g>
</g>
<text x="113.2" y="678.8" text-anchor="middle" font-size="27.5" font-weight="700" fill="#fff" stroke="#fff" stroke-width=".25" textLength="33.2" lengthAdjust="spacingAndGlyphs">1x</text>
<text x="300" y="681.6" text-anchor="middle" font-size="27.5" font-weight="700" fill="#fff" stroke="#fff" stroke-width=".25" textLength="33.2" lengthAdjust="spacingAndGlyphs">2x</text>
<text x="487.8" y="681.4" text-anchor="middle" font-size="27.5" font-weight="700" fill="#fff" stroke="#fff" stroke-width=".25" textLength="33.2" lengthAdjust="spacingAndGlyphs">3x</text>
<text x="679.4" y="681.8" text-anchor="middle" font-size="27.5" font-weight="700" fill="#fff" stroke="#fff" stroke-width=".25" textLength="33.2" lengthAdjust="spacingAndGlyphs">4x</text>
<text x="112.9" y="746.8" text-anchor="middle" font-size="13.8" font-weight="700" fill="#1f2d3f" textLength="61.4" lengthAdjust="spacingAndGlyphs">Moniteur</text>
<text x="305" y="746.8" text-anchor="middle" font-size="13.8" font-weight="700" fill="#1f2d3f" textLength="67.4" lengthAdjust="spacingAndGlyphs">Moniteurs</text>
<text x="494.4" y="746.8" text-anchor="middle" font-size="13.8" font-weight="700" fill="#1f2d3f" textLength="67.4" lengthAdjust="spacingAndGlyphs">Moniteurs</text>
<text x="687.7" y="746.8" text-anchor="middle" font-size="13.8" font-weight="700" fill="#1f2d3f" textLength="67.4" lengthAdjust="spacingAndGlyphs">Moniteurs</text>
</svg></body></html>
